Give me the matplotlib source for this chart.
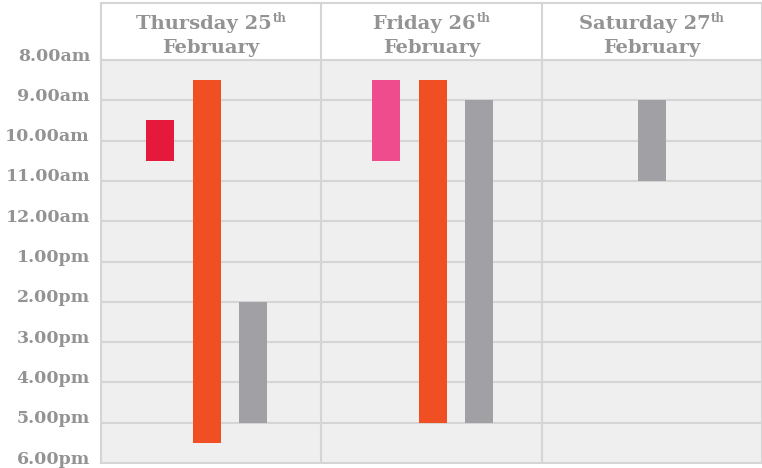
import matplotlib
matplotlib.use("Agg")
import matplotlib.pyplot as plt
from matplotlib.transforms import ScaledTranslation

# ---- data ----
days = ["Thursday", "Friday", "Saturday"]
day_numbers = ["25", "26", "27"]
day_suffix = "th"
month = "February"
hours = [8, 9, 10, 11, 12, 13, 14, 15, 16, 17, 18]
hour_labels = ["8.00am", "9.00am", "10.00am", "11.00am", "12.00am", "1.00pm",
               "2.00pm", "3.00pm", "4.00pm", "5.00pm", "6.00pm"]

event_day = [0, 0, 0, 1, 1, 1, 2]
event_slot = [-1, 0, 1, -1, 0, 1, 0]
event_start = [9.5, 8.5, 14.0, 8.5, 8.5, 9.0, 9.0]
event_end = [10.5, 17.5, 17.0, 10.5, 17.0, 17.0, 11.0]
event_color = ["#e5193b", "#f04f23", "#a1a0a5", "#ef4c8e", "#f04f23", "#a1a0a5", "#a1a0a5"]

# ---- style ----
W, H, DPI = 762, 468, 100
text_col = "#939393"
grid_col = "#d5d5d5"
bg_col = "#efefef"
font = "DejaVu Serif"
day_shift_px = [-4.5, 1.0, 0.0]

fig = plt.figure(figsize=(W / DPI, H / DPI), dpi=DPI)
fig.patch.set_facecolor("white")

left_px, right_px = 101, 762
head_top, head_bot, main_bot = 3, 60, 463
col_px = (right_px - left_px) / len(days)

ax = fig.add_axes([left_px / W, (H - main_bot) / H, (right_px - left_px) / W,
                   (main_bot - head_bot) / H])
ax.set_facecolor(bg_col)
ax.set_xlim(0, len(days))
ax.set_ylim(hours[-1], hours[0])

for h in hours[1:-1]:
    ax.axhline(h, color=grid_col, lw=1.5, zorder=1)
for i in range(1, len(days)):
    ax.axvline(i, color=grid_col, lw=1.5, zorder=1)
for s in ax.spines.values():
    s.set_color(grid_col)
    s.set_linewidth(1.5)

bar_w = 28 / col_px
slot_step = 46.5 / col_px
for d, sl, st, en, c in zip(event_day, event_slot, event_start, event_end, event_color):
    xc = d + 0.5 + sl * slot_step + day_shift_px[d] / col_px
    ax.bar(xc, en - st, bottom=st, width=bar_w, color=c, zorder=3, linewidth=0)

ax.set_xticks([])
ax.set_yticks(hours)
ax.set_yticklabels(hour_labels, fontfamily=font, fontweight="bold", fontsize=12.5,
                   color=text_col)
ax.tick_params(axis="y", length=0, pad=8)
for lab in ax.get_yticklabels():
    lab.set_transform(lab.get_transform() + ScaledTranslation(0, 6 / DPI, fig.dpi_scale_trans))

# header
axh = fig.add_axes([left_px / W, (H - head_bot) / H, (right_px - left_px) / W,
                    (head_bot - head_top) / H])
axh.set_facecolor("white")
axh.set_xlim(0, len(days))
axh.set_ylim(0, 1)
axh.set_xticks([])
axh.set_yticks([])
for s in axh.spines.values():
    s.set_color(grid_col)
    s.set_linewidth(1.5)
for i in range(1, len(days)):
    axh.axvline(i, color=grid_col, lw=1.5)

hh = head_bot - head_top
renderer = fig.canvas.get_renderer()
for i, (d, n) in enumerate(zip(days, day_numbers)):
    t1 = axh.text(i + 0.5, 1 - 26 / hh, f"{d} {n}", ha="center", va="baseline",
                  fontfamily=font, fontweight="bold", fontsize=14, color=text_col)
    t2 = axh.text(i + 0.5, 1 - 26 / hh, day_suffix, ha="left", va="baseline",
                  fontfamily=font, fontweight="bold", fontsize=8.5, color=text_col)
    w1 = t1.get_window_extent(renderer).width
    w2 = t2.get_window_extent(renderer).width
    t1.set_transform(axh.transData + ScaledTranslation(-(w2 + 1) / 2 / DPI, 0, fig.dpi_scale_trans))
    t2.set_transform(axh.transData + ScaledTranslation((w1 / 2 - w2 / 2 + 0.5) / DPI, 7 / DPI,
                                                       fig.dpi_scale_trans))
    axh.text(i + 0.5, 1 - 50 / hh, month, ha="center", va="baseline",
             fontfamily=font, fontweight="bold", fontsize=14, color=text_col)

fig.savefig("out.png", dpi=DPI)
